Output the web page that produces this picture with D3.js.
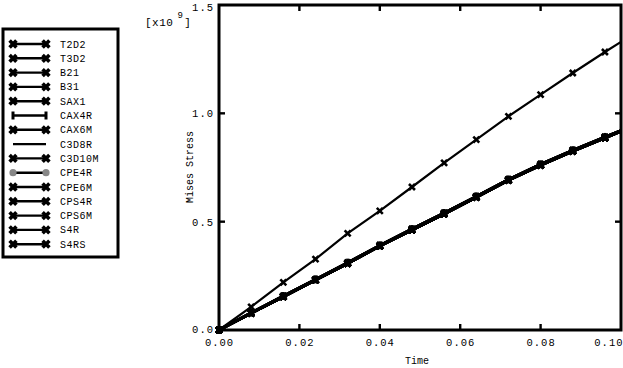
<!DOCTYPE html>
<html><head><meta charset="utf-8">
<script src="https://cdn.jsdelivr.net/npm/d3@7"></script>
<style>body{margin:0;background:#fff}svg text{font-family:"Liberation Mono","DejaVu Sans Mono",monospace;fill:#000}</style>
</head><body><svg id="c" width="623" height="368"></svg>
<script>
// ---- data ----
const times = [0, 0.008, 0.016, 0.024, 0.032, 0.040, 0.048, 0.056, 0.064, 0.072, 0.080, 0.088, 0.096, 0.100];
const upperStress = [0, 0.107, 0.220, 0.327, 0.446, 0.550, 0.660, 0.771, 0.879, 0.986, 1.086, 1.186, 1.283, 1.330];
const lowerStress = [0, 0.077, 0.153, 0.230, 0.307, 0.387, 0.461, 0.535, 0.612, 0.691, 0.760, 0.825, 0.886, 0.917];
const lowerStressB = [0, 0.080, 0.157, 0.234, 0.311, 0.391, 0.466, 0.540, 0.617, 0.695, 0.765, 0.830, 0.891, 0.921];
const seriesNames = ["T2D2","T3D2","B21","B31","SAX1","CAX4R","CAX6M","C3D8R","C3D10M","CPE4R","CPE6M","CPS4R","CPS6M","S4R","S4RS"];
const seriesMarker = ["x","x","x","x","x","plus","x","none","x","dot","x","x","x","x","x"];
const seriesCurve = ["upper","lower","lowerB","lower","lower","lowerB","lower","lowerB","lower","lowerB","lower","lower","lowerB","lower","lower"];
const xTicks = [0, 0.02, 0.04, 0.06, 0.08, 0.10];
const yTicks = [0, 0.5, 1.0, 1.5];
const curves = {upper: upperStress, lower: lowerStress, lowerB: lowerStressB};

const svg = d3.select("#c");
const x = d3.scaleLinear().domain([0, 0.1]).range([219, 621]);
const y = d3.scaleLinear().domain([0, 1.5]).range([330, 5]);

function marker(g, type, cx, cy, s, w) {
  if (type === "x") {
    const r = s || 3.2;
    g.append("path").attr("d", `M${cx-r},${cy-r}L${cx+r},${cy+r}M${cx-r},${cy+r}L${cx+r},${cy-r}`)
      .attr("stroke", "#000").attr("stroke-width", w || 3).attr("stroke-linecap", "butt");
  } else if (type === "plus") {
    g.append("path").attr("d", `M${cx},${cy-4}L${cx},${cy+4}`)
      .attr("stroke", "#000").attr("stroke-width", 3);
  } else if (type === "dot") {
    g.append("circle").attr("cx", cx).attr("cy", cy).attr("r", 3.6).attr("fill", "#888");
  }
}

// ---- plot lines ----
const plot = svg.append("g");
const line = d3.line().x((d, i) => x(times[i])).y(d => y(d));
seriesNames.forEach((name, k) => {
  const vals = curves[seriesCurve[k]];
  plot.append("path").attr("d", line(vals)).attr("fill", "none")
    .attr("stroke", "#000").attr("stroke-width", seriesCurve[k] === "upper" ? 2.2 : 2.6);
  if (seriesMarker[k] !== "none" && seriesMarker[k] !== "dot") {
    vals.forEach((v, i) => { if (times[i] < 0.099) marker(plot, seriesMarker[k], x(times[i]), y(v), 3, 2.6); });
  }
});

// ---- frame and axes ----
const fr = svg.append("g");
fr.append("rect").attr("x", 219).attr("y", 5).attr("width", 402).attr("height", 325)
  .attr("fill", "none").attr("stroke", "#000").attr("stroke-width", 3);
const xa = d3.axisBottom(x).tickValues(xTicks).tickSize(0).tickFormat(d3.format(".2f"));
const ya = d3.axisLeft(y).tickValues(yTicks).tickSize(0).tickFormat(d3.format(".1f"));
xTicks.forEach(t => {
  if (t > 0 && t < 0.1) {
    fr.append("line").attr("x1", x(t)).attr("x2", x(t)).attr("y1", 330).attr("y2", 324).attr("stroke", "#000").attr("stroke-width", 2.4);
    fr.append("line").attr("x1", x(t)).attr("x2", x(t)).attr("y1", 5).attr("y2", 11).attr("stroke", "#000").attr("stroke-width", 2.4);
  }
});
yTicks.forEach(t => {
  if (t > 0 && t < 1.5) {
    fr.append("line").attr("x1", 219).attr("x2", 225).attr("y1", y(t)).attr("y2", y(t)).attr("stroke", "#000").attr("stroke-width", 2.4);
    fr.append("line").attr("x1", 621).attr("x2", 615).attr("y1", y(t)).attr("y2", y(t)).attr("stroke", "#000").attr("stroke-width", 2.4);
  }
});
const gx = svg.append("g").attr("transform", "translate(0,330)").call(xa);
gx.select(".domain").remove();
gx.selectAll("text").attr("y", 9).attr("font-size", 10.5).attr("letter-spacing", 1)
  .style("font-family", '"Liberation Mono",monospace');
gx.selectAll(".tick").filter(d => d === 0.1).select("text").attr("text-anchor", "end").attr("x", 2);
const gy = svg.append("g").attr("transform", "translate(219,0)").call(ya);
gy.select(".domain").remove();
gy.selectAll("text").attr("x", -5).attr("font-size", 10.5).attr("letter-spacing", 1)
  .style("font-family", '"Liberation Mono",monospace');
gy.selectAll(".tick").filter(d => d === 0).select("text").attr("dy", "0.2em");
gy.selectAll(".tick").filter(d => d === 1.5).select("text").attr("dy", "0.5em");

svg.append("text").attr("x", 417).attr("y", 364).attr("text-anchor", "middle").attr("font-size", 10).text("Time");
svg.append("text").attr("transform", "translate(193,167) rotate(-90)").attr("text-anchor", "middle")
  .attr("font-size", 10).text("Mises Stress");
const sc = svg.append("text").attr("x", 145).attr("y", 26).attr("font-size", 11).attr("letter-spacing", 0.5);
sc.append("tspan").text("[x10");
sc.append("tspan").attr("dx", 4).attr("dy", -8).attr("font-size", 9).text("9");
sc.append("tspan").attr("dx", 1).attr("dy", 8).text("]");

// ---- legend ----
const lg = svg.append("g");
lg.append("rect").attr("x", 3).attr("y", 29).attr("width", 115).attr("height", 228)
  .attr("fill", "#fff").attr("stroke", "#000").attr("stroke-width", 3);
seriesNames.forEach((name, k) => {
  const yy = 44 + k * 14.3;
  lg.append("line").attr("x1", 13).attr("x2", 46).attr("y1", yy).attr("y2", yy)
    .attr("stroke", "#000").attr("stroke-width", 2.4);
  marker(lg, seriesMarker[k], 13, yy, 3.4, 3.6);
  marker(lg, seriesMarker[k], 46, yy, 3.4, 3.6);
  lg.append("text").attr("x", 60).attr("y", yy + 3.5).attr("font-size", 10).attr("letter-spacing", 0.5).text(name);
});
</script></body></html>
